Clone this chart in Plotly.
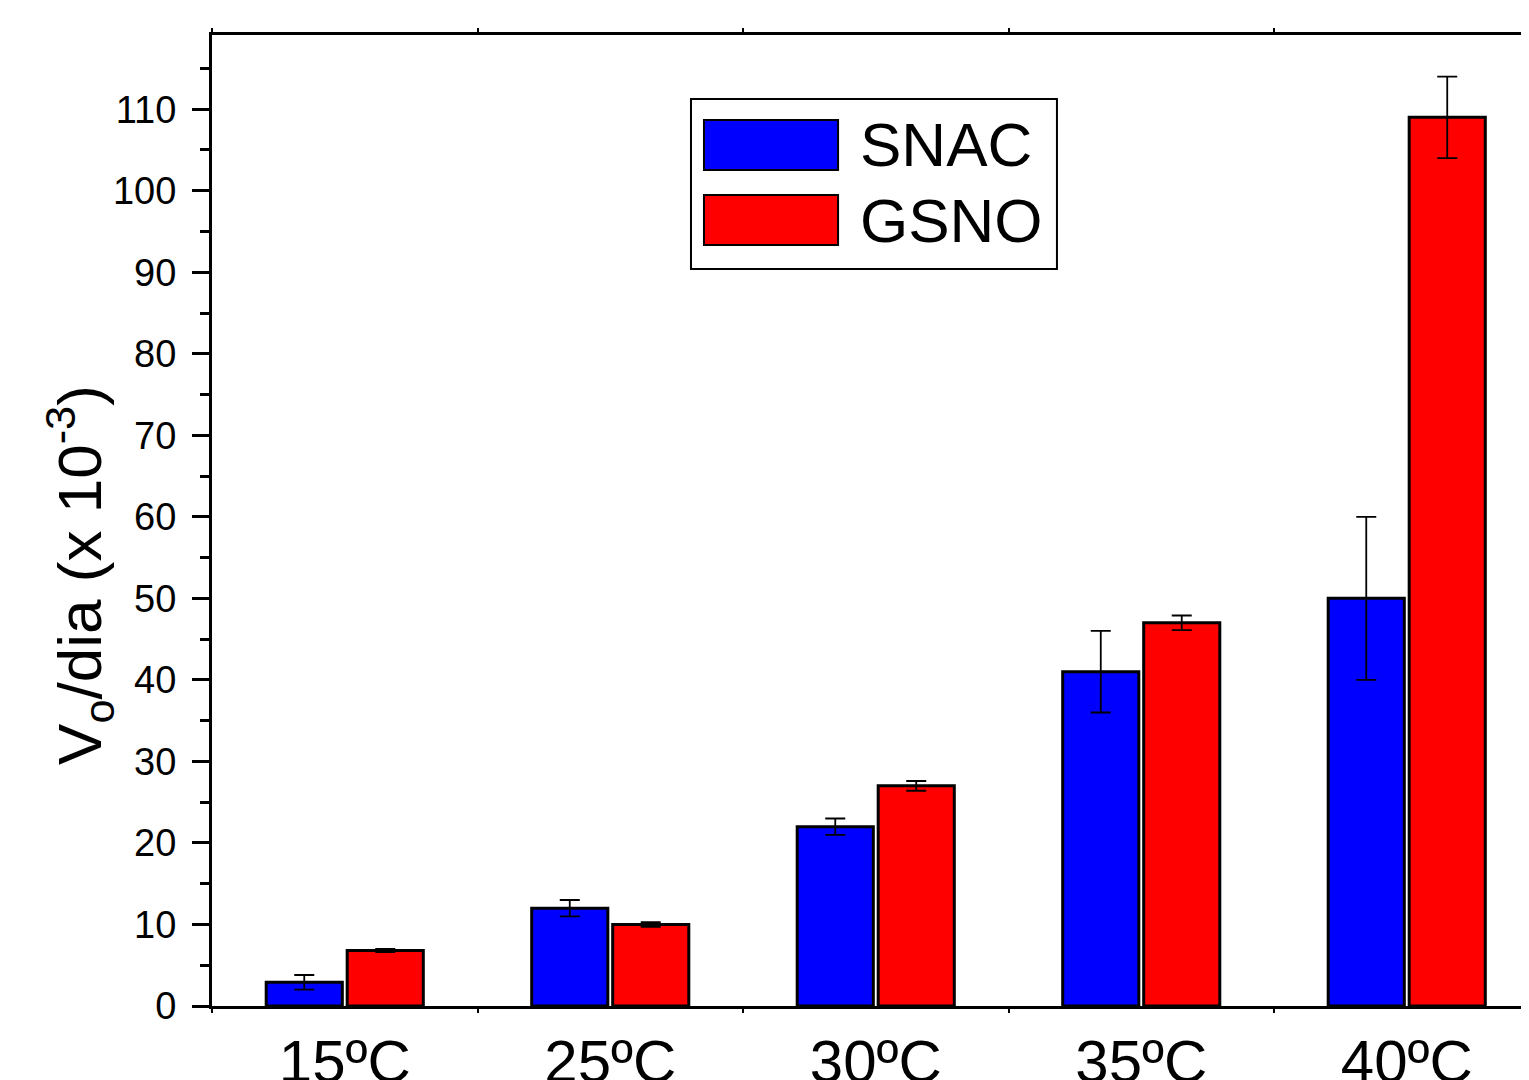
import plotly.graph_objects as go

categories = ["15ºC", "25ºC", "30ºC", "35ºC", "40ºC"]
series_names = ["SNAC", "GSNO"]
snac_values = [2.9, 12.0, 22.0, 41.0, 50.0]
snac_errors = [0.9, 1.0, 1.0, 5.0, 10.0]
gsno_values = [6.8, 10.0, 27.0, 47.0, 109.0]
gsno_errors = [0.2, 0.3, 0.6, 0.9, 5.0]
colors = ["#0000FF", "#FF0000"]
y_title = "V<sub>o</sub>/dia (x 10<sup>-3</sup>)"

FONT = "Liberation Sans, Arial, Helvetica, sans-serif"

fig = go.Figure()
for name, vals, errs, col in zip(series_names, [snac_values, gsno_values],
                                 [snac_errors, gsno_errors], colors):
    fig.add_trace(go.Bar(
        x=categories, y=vals, name=name,
        marker=dict(color=col, line=dict(color="black", width=3)),
        error_y=dict(type="data", array=errs, visible=True, color="black",
                     thickness=1.8, width=10),
        showlegend=False,
    ))

fig.update_layout(
    width=1529, height=1080,
    margin=dict(l=204, r=0, t=27, b=82, autoexpand=False),
    paper_bgcolor="white", plot_bgcolor="white",
    barmode="group", bargap=0.39, bargroupgap=0.06,
    font=dict(family=FONT, color="black"),
)

fig.update_xaxes(
    range=[-0.5, 4.4906],
    automargin=False,
    showline=True, linecolor="black", linewidth=3, mirror="ticks",
    ticks="outside", ticklen=4, tickwidth=2, tickcolor="black",
    tickson="boundaries",
    tickfont=dict(size=60, family=FONT, color="black"),
    ticklabelstandoff=1,
    showgrid=False, zeroline=False,
)
fig.update_yaxes(
    range=[0, 119.1],
    automargin=False,
    showline=True, linecolor="black", linewidth=3,
    ticks="outside", ticklen=17, tickwidth=2.5, tickcolor="black",
    dtick=10, tick0=0,
    minor=dict(dtick=5, ticks="outside", ticklen=9, tickwidth=2.5, tickcolor="black"),
    tickfont=dict(size=38, family=FONT, color="black"),
    ticklabelstandoff=8,
    showgrid=False, zeroline=False,
)

# custom legend (large swatches as in the reference); paper coords of plot area
shapes = [dict(type="rect", xref="paper", yref="paper",
               x0=0.3615, x1=0.6377, y0=0.759, y1=0.934,
               line=dict(color="black", width=2), fillcolor="white", layer="above")]
annotations = [dict(xref="paper", yref="paper", x=-0.0996, y=0.4440,
                    text=y_title, textangle=-90, showarrow=False,
                    xanchor="center", yanchor="middle",
                    font=dict(size=62, family=FONT, color="black"))]
sw_y = [(0.861, 0.9125), (0.7837, 0.8352)]
for (y0, y1), name, col in zip(sw_y, series_names, colors):
    shapes.append(dict(type="rect", xref="paper", yref="paper",
                       x0=0.3713, x1=0.4725, y0=y0, y1=y1,
                       line=dict(color="black", width=2), fillcolor=col, layer="above"))
    annotations.append(dict(xref="paper", yref="paper", x=0.4875, y=(y0 + y1) / 2,
                            text=name, showarrow=False, xanchor="left", yanchor="middle",
                            font=dict(size=62, family=FONT, color="black")))
fig.update_layout(shapes=shapes, annotations=annotations)

fig.write_html("out.html")
